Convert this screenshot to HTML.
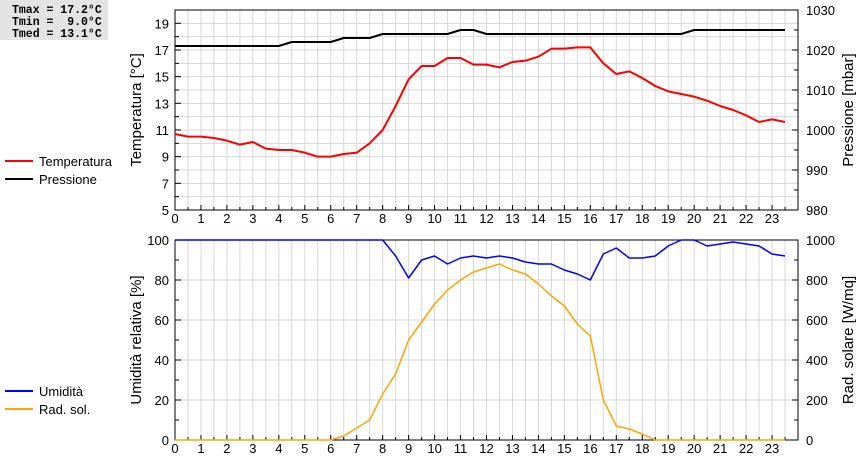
<!DOCTYPE html>
<html><head><meta charset="utf-8"><style>
body{margin:0;background:#fff;width:860px;height:460px;overflow:hidden;font-family:"Liberation Sans",sans-serif}
svg text{font-family:"Liberation Sans",sans-serif;font-size:13px;fill:#000}
</style></head><body>
<svg id="c" width="860" height="460">
<rect x="0" y="0" width="108" height="40" fill="#e4e4e4"/>
<text x="12" y="13" style="font-family:'Liberation Mono',monospace;font-size:11.5px;font-weight:bold" xml:space="preserve">Tmax = 17.2°C</text>
<text x="12" y="25" style="font-family:'Liberation Mono',monospace;font-size:11.5px;font-weight:bold" xml:space="preserve">Tmin =  9.0°C</text>
<text x="12" y="37" style="font-family:'Liberation Mono',monospace;font-size:11.5px;font-weight:bold" xml:space="preserve">Tmed = 13.1°C</text>
<g id="g"></g>
</svg>
<script>
const hours=[0,0.5,1,1.5,2,2.5,3,3.5,4,4.5,5,5.5,6,6.5,7,7.5,8,8.5,9,9.5,10,10.5,11,11.5,12,12.5,13,13.5,14,14.5,15,15.5,16,16.5,17,17.5,18,18.5,19,19.5,20,20.5,21,21.5,22,22.5,23,23.5];
const temperature=[10.7,10.5,10.5,10.4,10.2,9.9,10.1,9.6,9.5,9.5,9.3,9.0,9.0,9.2,9.3,10.0,11.0,12.8,14.8,15.8,15.8,16.4,16.4,15.9,15.9,15.7,16.1,16.2,16.5,17.1,17.1,17.2,17.2,16.0,15.2,15.4,14.9,14.3,13.9,13.7,13.5,13.2,12.8,12.5,12.1,11.6,11.8,11.6];
const pressure=[1021,1021,1021,1021,1021,1021,1021,1021,1021,1022,1022,1022,1022,1023,1023,1023,1024,1024,1024,1024,1024,1024,1025,1025,1024,1024,1024,1024,1024,1024,1024,1024,1024,1024,1024,1024,1024,1024,1024,1024,1025,1025,1025,1025,1025,1025,1025,1025];
const humidity=[100,100,100,100,100,100,100,100,100,100,100,100,100,100,100,100,100,92,81,90,92,88,91,92,91,92,91,89,88,88,85,83,80,93,96,91,91,92,97,100,100,97,98,99,98,97,93,92];
const radiation=[0,0,0,0,0,0,0,0,0,0,0,0,0,20,60,100,230,330,500,590,680,750,800,840,860,880,850,830,780,720,670,580,520,200,70,55,30,0,0,0,0,0,0,0,0,0,0,0];
const xTicks=[0,1,2,3,4,5,6,7,8,9,10,11,12,13,14,15,16,17,18,19,20,21,22,23];
const tempTicks=[5,7,9,11,13,15,17,19];
const presTicks=[980,990,1000,1010,1020,1030];
const humTicks=[0,20,40,60,80,100];
const radTicks=[0,200,400,600,800,1000];

const NS="http://www.w3.org/2000/svg",G=document.getElementById('g');
function el(t,a,p){const e=document.createElementNS(NS,t);for(const k in a)e.setAttribute(k,a[k]);(p||G).appendChild(e);return e;}
const L=175,R=798;
const x=h=>L+h*(R-L)/24;
const P1={t:10,b:210},P2={t:240,b:440};
const yT=v=>P1.b-(v-5)/15*(P1.b-P1.t);
const yP=v=>P1.b-(v-980)/50*(P1.b-P1.t);
const yH=v=>P2.b-v/100*(P2.b-P2.t);
const yR=v=>P2.b-v/1000*(P2.b-P2.t);

function panel(P,hStep,hN,name){
  for(let i=1;i<48;i++){const g=el('line',{x1:x(i/2),x2:x(i/2),y1:P.t,y2:P.b,stroke:'#d8d8d8','stroke-width':1});
    }
  for(let i=1;i<hN;i++){const yy=P.t+i*(P.b-P.t)/hN;const g=el('line',{x1:L,x2:R,y1:yy,y2:yy,stroke:'#d8d8d8','stroke-width':1});
    }
  const f=el('rect',{x:L,y:P.t,width:R-L,height:P.b-P.t,fill:'none',stroke:'#000','stroke-width':1});
  
  for(let i=0;i<=48;i++){el('line',{x1:x(i/2),x2:x(i/2),y1:P.b,y2:P.b-(i%2?3:5),stroke:'#000'});}
  xTicks.forEach(h=>{const t=el('text',{x:x(h),y:P.b+13,'text-anchor':'middle'});t.textContent=h;
    });
}
panel(P1,1,15,'top');
panel(P2,1,5,'bottom');
for(let v=5;v<=20;v++)el('line',{x1:L,x2:L+(v%2?6:4),y1:yT(v),y2:yT(v),stroke:'#000'});
tempTicks.forEach(v=>{const t=el('text',{x:L-6,y:yT(v)+5,'text-anchor':'end'});t.textContent=v;
  });
for(let v=980;v<=1030;v+=5)el('line',{x1:R,x2:R-(v%10?4:6),y1:yP(v),y2:yP(v),stroke:'#000'});
presTicks.forEach(v=>{const t=el('text',{x:R+8,y:yP(v)+5});t.textContent=v;
  });
for(let v=0;v<=100;v+=10)el('line',{x1:L,x2:L+(v%20?4:6),y1:yH(v),y2:yH(v),stroke:'#000'});
humTicks.forEach(v=>{const t=el('text',{x:L-6,y:yH(v)+5,'text-anchor':'end'});t.textContent=v;
  });
for(let v=0;v<=1000;v+=100)el('line',{x1:R,x2:R-(v%200?4:6),y1:yR(v),y2:yR(v),stroke:'#000'});
radTicks.forEach(v=>{const t=el('text',{x:R+8,y:yR(v)+5});t.textContent=v;
  });
function title(txt,cx,cy,name){const t=el('text',{x:cx,y:cy,'text-anchor':'middle',transform:`rotate(-90 ${cx} ${cy})`,style:'font-size:15px'});t.textContent=txt;
  }
title('Temperatura [°C]',141,110,'temp-axis-title');
title('Pressione [mbar]',853,110,'pressure-axis-title');
title('Umidità relativa [%]',141,340,'humidity-axis-title');
title('Rad. solare [W/mq]',853,340,'radiation-axis-title');
function line(vals,fy,col,name,w){const p=el('polyline',{points:vals.map((v,i)=>x(hours[i])+','+fy(v)).join(' '),fill:'none',stroke:col,'stroke-width':w,'stroke-linejoin':'round'});
  }
line(pressure,yP,'#000','pressure-line',2);
line(temperature,yT,'#f00','temperature-line',2);
line(radiation,yR,'#ffa500','radiation-line',1.5);
line(humidity,yH,'#00f','humidity-line',1.5);
function leg(y,col,txt,name){const g=el('g',{});
  el('line',{x1:5,x2:33,y1:y,y2:y,stroke:col,'stroke-width':2},g);const t=el('text',{x:39,y:y+5},g);t.textContent=txt;}
leg(161,'#f00','Temperatura','legend-temperature');
leg(179,'#000','Pressione','legend-pressure');
leg(391,'#00f','Umidità','legend-humidity');
leg(409,'#ffa500','Rad. sol.','legend-radiation');
</script>
</body></html>
